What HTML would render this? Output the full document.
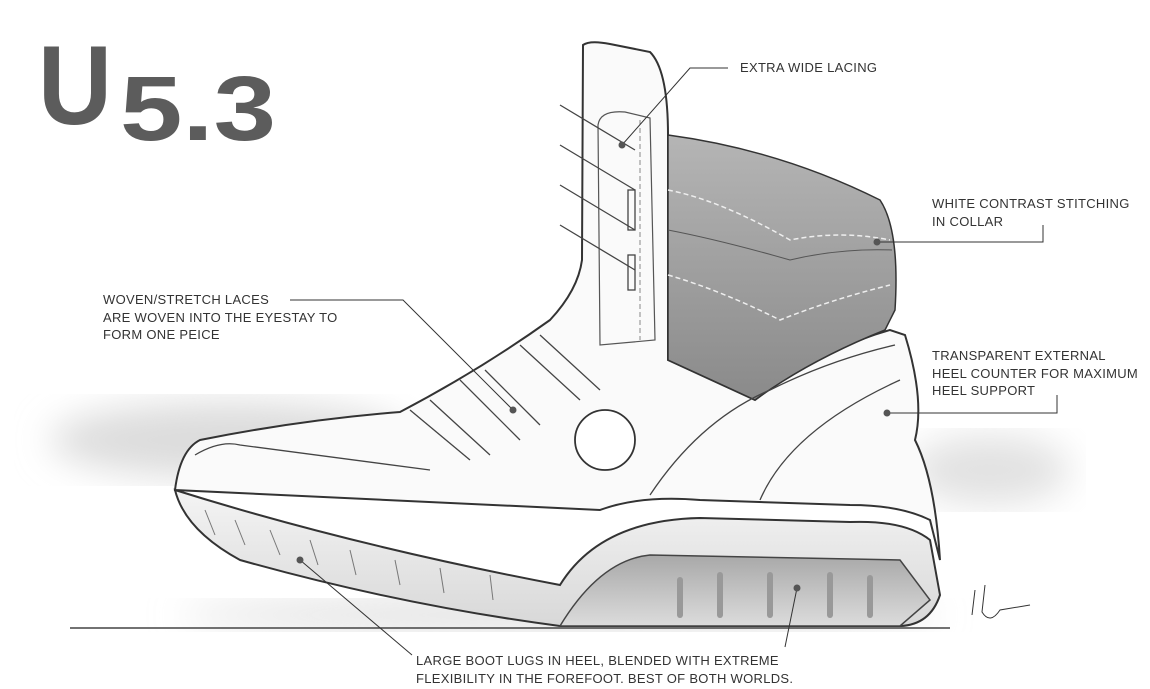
<!DOCTYPE html>
<html><head><meta charset="utf-8"><style>
html,body{margin:0;padding:0;background:#fff;}
body{width:1150px;height:689px;overflow:hidden;position:relative;font-family:"Liberation Sans",sans-serif;}
.t{position:absolute;font-size:13px;color:#333;letter-spacing:0.3px;line-height:17.5px;white-space:nowrap;}
</style></head><body>
<svg width="1150" height="689" style="position:absolute;left:0;top:0">
<defs>
<linearGradient id="col" x1="0" y1="0" x2="0" y2="1"><stop offset="0" stop-color="#b5b5b5"/><stop offset="1" stop-color="#8a8a8a"/></linearGradient>
<linearGradient id="sole" x1="0" y1="0" x2="0" y2="1"><stop offset="0" stop-color="#f4f4f4"/><stop offset="1" stop-color="#d8d8d8"/></linearGradient>
<linearGradient id="lug" x1="0" y1="0" x2="0" y2="1"><stop offset="0" stop-color="#a8a8a8"/><stop offset="1" stop-color="#dcdcdc"/></linearGradient>
<filter id="bl"><feGaussianBlur stdDeviation="18"/></filter>
</defs>
<!-- shadows -->
<ellipse cx="230" cy="440" rx="180" ry="38" fill="#dcdcdc" filter="url(#bl)"/>
<ellipse cx="990" cy="470" rx="80" ry="35" fill="#e2e2e2" filter="url(#bl)"/>
<ellipse cx="560" cy="615" rx="380" ry="14" fill="#dadada" filter="url(#bl)"/>
<line x1="70" y1="628" x2="950" y2="628" stroke="#444" stroke-width="1.5"/>
<!-- title -->
<text x="38" y="124" font-family="Liberation Sans" font-weight="bold" font-size="112" fill="#5c5c5c" textLength="74" lengthAdjust="spacingAndGlyphs">U</text>
<text x="120" y="140" font-family="Liberation Sans" font-weight="bold" font-size="92" fill="#5c5c5c" textLength="156" lengthAdjust="spacingAndGlyphs">5.3</text>
<!-- upper body -->
<path d="M583,45 Q590,40 610,44 L650,52 Q668,70 668,135 L668,360 L755,400 Q820,350 890,330 L905,335 Q925,400 915,440 Q935,480 940,560 L930,520 Q900,505 850,505 L700,500 Q640,495 600,510 L175,490 Q180,450 200,440 Q300,420 400,412 Q480,370 550,320 Q578,290 582,260 Z" fill="#fafafa" stroke="#333" stroke-width="2"/>
<!-- collar gray -->
<path d="M668,135 Q780,150 880,200 Q900,230 895,310 L885,330 Q810,360 755,400 L668,360 Z" fill="url(#col)" stroke="#333" stroke-width="1.5"/>
<path d="M668,190 Q720,200 790,240 Q840,230 890,240" fill="none" stroke="#eee" stroke-width="1.5" stroke-dasharray="5,3"/>
<path d="M668,275 Q720,290 780,320 Q830,300 890,285" fill="none" stroke="#eee" stroke-width="1.5" stroke-dasharray="5,3"/>
<path d="M668,230 Q720,240 790,260 Q840,248 892,250" fill="none" stroke="#555" stroke-width="1"/>
<!-- tongue -->
<path d="M598,125 Q600,110 625,112 L650,118 L655,340 L600,345 Z" fill="none" stroke="#555" stroke-width="1.2"/>
<line x1="640" y1="120" x2="640" y2="340" stroke="#888" stroke-dasharray="5,3"/>
<!-- laces -->
<g stroke="#444" stroke-width="1.3" fill="none">
<path d="M410,410 L470,460"/><path d="M430,400 L490,455"/><path d="M460,380 L520,440"/><path d="M485,370 L540,425"/><path d="M520,345 L580,400"/><path d="M540,335 L600,390"/>
<path d="M560,105 L635,150"/><path d="M560,145 L635,190"/><path d="M560,185 L635,230"/><path d="M560,225 L635,270"/>
<rect x="628" y="190" width="7" height="40"/><rect x="628" y="255" width="7" height="35"/>
<circle cx="605" cy="440" r="30" fill="#fff" stroke="#333" stroke-width="1.8"/>
<path d="M650,495 Q700,420 770,390 Q830,360 895,345"/>
<path d="M760,500 Q790,430 900,380"/>
<path d="M195,455 Q220,440 240,445 L430,470"/>
</g>
<!-- sole -->
<path d="M175,490 Q350,545 560,585 Q600,520 700,518 L850,522 Q905,520 930,540 L940,595 Q930,625 900,626 L560,626 Q400,605 240,560 Q185,530 175,490 Z" fill="url(#sole)" stroke="#333" stroke-width="2"/>
<path d="M560,626 Q600,560 650,555 L900,560 L930,600 L900,626 Z" fill="url(#lug)" stroke="#444" stroke-width="1.5"/>
<g stroke="#999" stroke-width="6" stroke-linecap="round"><line x1="680" y1="580" x2="680" y2="615"/><line x1="720" y1="575" x2="720" y2="615"/><line x1="770" y1="575" x2="770" y2="615"/><line x1="830" y1="575" x2="830" y2="615"/><line x1="870" y1="578" x2="870" y2="615"/></g>
<g stroke="#777" stroke-width="1"><line x1="205" y1="510" x2="215" y2="535"/><line x1="235" y1="520" x2="245" y2="545"/><line x1="270" y1="530" x2="280" y2="555"/><line x1="310" y1="540" x2="318" y2="565"/><line x1="350" y1="550" x2="356" y2="575"/><line x1="395" y1="560" x2="400" y2="585"/><line x1="440" y1="568" x2="444" y2="593"/><line x1="490" y1="575" x2="493" y2="600"/></g>
<!-- leaders -->
<g stroke="#333" stroke-width="1" fill="none">
<path d="M728,68 L690,68 L622,145"/>
<path d="M1043,225 L1043,242 L877,242"/>
<path d="M290,300 L403,300 L513,410"/>
<path d="M1057,395 L1057,413 L887,413"/>
<path d="M412,655 L300,560"/>
<path d="M785,647 L797,588"/>
</g>
<g fill="#555"><circle cx="622" cy="145" r="3.5"/><circle cx="877" cy="242" r="3.5"/><circle cx="513" cy="410" r="3.5"/><circle cx="887" cy="413" r="3.5"/><circle cx="300" cy="560" r="3.5"/><circle cx="797" cy="588" r="3.5"/></g>
<path d="M975,590 L972,615 M985,585 L982,612 Q990,625 1000,610 L1030,605" stroke="#333" fill="none"/>
</svg>
<div class="t" style="left:740px;top:59px">EXTRA WIDE LACING</div>
<div class="t" style="left:932px;top:195px">WHITE CONTRAST STITCHING<br>IN COLLAR</div>
<div class="t" style="left:103px;top:291px">WOVEN/STRETCH LACES<br>ARE WOVEN INTO THE EYESTAY TO<br>FORM ONE PEICE</div>
<div class="t" style="left:932px;top:347px">TRANSPARENT EXTERNAL<br>HEEL COUNTER FOR MAXIMUM<br>HEEL SUPPORT</div>
<div class="t" style="left:416px;top:652px">LARGE BOOT LUGS IN HEEL, BLENDED WITH EXTREME<br>FLEXIBILITY IN THE FOREFOOT. BEST OF BOTH WORLDS.</div>
</body></html>
